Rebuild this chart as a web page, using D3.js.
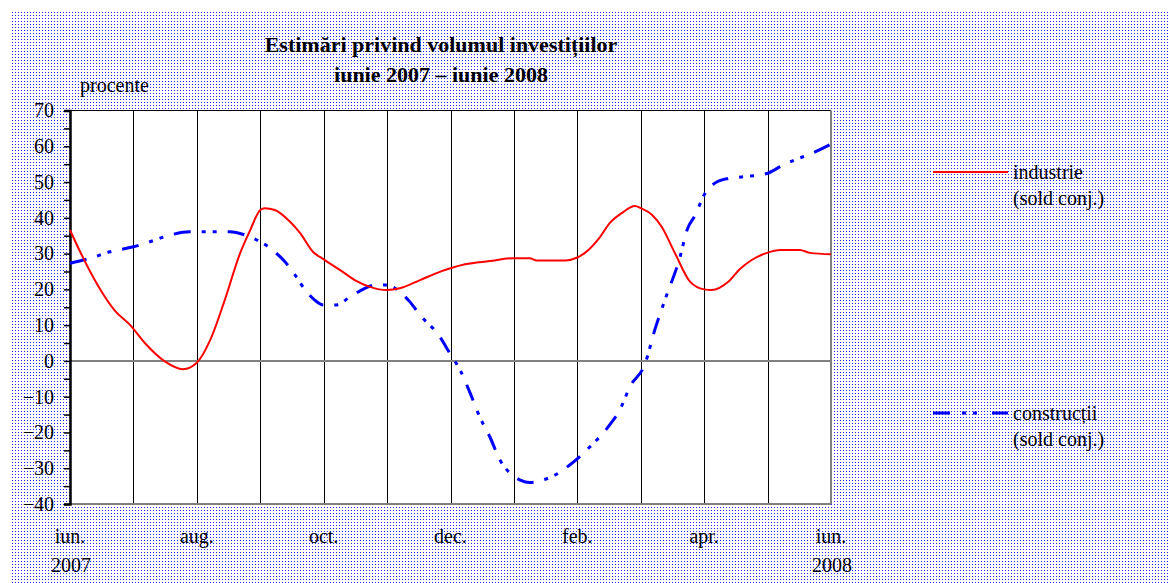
<!DOCTYPE html>
<html>
<head>
<meta charset="utf-8">
<script src="https://cdn.jsdelivr.net/npm/d3@7"></script>
<style>
  body { margin: 0; background: #fff; }
  svg text { font-family: "Liberation Serif", "Times New Roman", serif; fill: #000; }
</style>
</head>
<body>
<svg id="chart" width="1170" height="583"></svg>
<script>
// months counted from June 2007 (0) to June 2008 (12)
var industrieT = [0, 0.16, 0.47, 0.71, 0.95, 1.18, 1.5, 1.78, 2, 2.21, 2.44, 2.68, 2.84, 3, 3.07, 3.23, 3.47, 3.63, 3.83, 4,
	4.26, 4.49, 4.73, 5, 5.2, 5.52, 5.83, 6, 6.23, 6.62, 6.99, 7.25, 7.36, 7.81, 8, 8.12, 8.36, 8.51, 8.7, 8.91,
	9, 9.18, 9.33, 9.54, 9.78, 10, 10.12, 10.38, 10.56, 10.75, 10.99, 11.2, 11.51, 11.67, 12];
var industrieV = [36.6, 30.5, 20.2, 14, 10, 5, -0.2, -2.3, -0.5, 5.8, 17, 30, 36.5, 42.2, 42.7, 42.2, 38.9, 35.7, 30.5, 28.4,
	25.4, 22.6, 20.7, 19.8, 20.3, 22.6, 24.9, 25.9, 27, 27.9, 28.7, 28.7, 28.1, 28.1, 28.9, 30.2, 34.7, 38.5, 41.3, 43.3,
	42.7, 40.8, 37.5, 30.1, 22.1, 20, 19.8, 22.1, 25.6, 28.2, 30.2, 31, 31, 30.2, 29.8];

var constructiiT = [0, 0.32, 0.63, 1, 1.26, 1.58, 1.89, 2.52, 2.76, 3, 3.23, 3.39, 3.55, 3.71, 3.86, 4, 4.18, 4.42, 4.65, 4.86,
	5.08, 5.2, 5.36, 5.52, 5.83, 5.99, 6.15, 6.31, 6.46, 6.62, 6.78, 6.94, 7.1, 7.25, 7.41, 7.65, 7.88, 8.2, 8.51, 8.67,
	8.83, 9.07, 9.22, 9.38, 9.62, 9.73, 9.86, 10, 10.17, 10.38, 10.64, 10.99, 11.2, 11.43, 11.67, 12];
var constructiiV = [27.3, 28.7, 30.5, 31.9, 33.3, 35.2, 36.1, 36.1, 35.2, 33.3, 30.5, 27.7, 24, 19.8, 17, 15.6, 15.6, 17.9, 20.3, 21.4,
	20.7, 19.3, 16.5, 12.8, 6.8, 2.1, -2.5, -9, -15.6, -21.2, -27.7, -31.4, -33.3, -34, -33.5, -31.9, -29.1, -24, -17.9, -13.7,
	-7.2, -0.7, 8.6, 17, 29.1, 36.6, 40.8, 46.4, 49.7, 51, 51.5, 52.4, 54.3, 56.2, 57.8, 60.6];

var monthLabels = [
	{ m: 0, label: "iun.", year: "2007" },
	{ m: 2, label: "aug." },
	{ m: 4, label: "oct." },
	{ m: 6, label: "dec." },
	{ m: 8, label: "feb." },
	{ m: 10, label: "apr." },
	{ m: 12, label: "iun.", year: "2008" }
];
var yTicks = d3.range(-40, 71, 5);

var svg = d3.select("#chart");

// dotted background
var defs = svg.append("defs");
var pat = defs.append("pattern")
	.attr("id", "dots")
	.attr("patternUnits", "userSpaceOnUse")
	.attr("width", 3).attr("height", 3);
pat.append("rect").attr("width", 3).attr("height", 3).attr("fill", "#ffffff");
pat.append("rect").attr("width", 1).attr("height", 1).attr("fill", "#2020ff");

svg.append("rect")
	.attr("x", 10).attr("y", 10)
	.attr("width", 1160).attr("height", 573)
	.attr("fill", "url(#dots)");

var x = d3.scaleLinear().domain([0, 12]).range([70, 831]);
var y = d3.scaleLinear().domain([-40, 70]).range([504, 110.5]);

// plot area
svg.append("rect")
	.attr("x", x(0)).attr("y", y(70))
	.attr("width", x(12) - x(0)).attr("height", y(-40) - y(70))
	.attr("fill", "#fff");

// vertical month grid
svg.append("g")
	.selectAll("line")
	.data(d3.range(1, 12))
	.enter()
	.append("line")
	.attr("x1", function(m) { return Math.round(x(m)) + 0.5; })
	.attr("x2", function(m) { return Math.round(x(m)) + 0.5; })
	.attr("y1", y(70)).attr("y2", y(-40))
	.attr("stroke", "#000").attr("stroke-width", 1);

// borders
svg.append("line")
	.attr("x1", x(0)).attr("x2", x(12))
	.attr("y1", y(70)).attr("y2", y(70))
	.attr("stroke", "#000").attr("stroke-width", 1);
svg.append("line")
	.attr("x1", x(12)).attr("x2", x(12))
	.attr("y1", y(70)).attr("y2", y(-40))
	.attr("stroke", "#808080").attr("stroke-width", 2);
svg.append("line")
	.attr("x1", x(0)).attr("x2", x(12))
	.attr("y1", y(-40)).attr("y2", y(-40))
	.attr("stroke", "#808080").attr("stroke-width", 2);

// zero line
svg.append("line")
	.attr("x1", x(0)).attr("x2", x(12))
	.attr("y1", y(0)).attr("y2", y(0))
	.attr("stroke", "#808080").attr("stroke-width", 2);

// y axis
var yAxis = svg.append("g")
	.attr("transform", "translate(" + x(0) + ",0)")
	.call(d3.axisLeft(y)
		.tickValues(yTicks)
		.tickSize(6)
		.tickPadding(10)
		.tickFormat(function(d) {
			return d % 10 === 0 ? String(d).replace("-", "\u2212") : "";
		}));
yAxis.select(".domain").attr("stroke", "#000").attr("stroke-width", 2.5);
yAxis.selectAll(".tick line").attr("stroke", "#000").attr("stroke-width", 1.5);
yAxis.selectAll(".tick text")
	.style("font-family", "'Liberation Serif', serif")
	.style("font-size", "20px")
	.attr("fill", "#000");

// x labels
var xl = svg.append("g").selectAll("g")
	.data(monthLabels)
	.enter()
	.append("g");
xl.append("text")
	.attr("x", function(d) { return x(d.m); })
	.attr("y", 543)
	.attr("text-anchor", "middle")
	.style("font-size", "20px")
	.text(function(d) { return d.label; });
xl.filter(function(d) { return d.year; })
	.append("text")
	.attr("x", function(d) { return x(d.m) + 1; })
	.attr("y", 572)
	.attr("text-anchor", "middle")
	.style("font-size", "20px")
	.text(function(d) { return d.year; });

// series
var line = d3.line()
	.x(function(d) { return x(d[0]); })
	.y(function(d) { return y(d[1]); })
	.curve(d3.curveMonotoneX);

var dashBlue = "17,11,4,7,4,11";

svg.append("path")
	.datum(d3.zip(constructiiT, constructiiV))
	.attr("d", line)
	.attr("fill", "none")
	.attr("stroke", "#0000ff")
	.attr("stroke-width", 3)
	.attr("stroke-dasharray", dashBlue);

svg.append("path")
	.datum(d3.zip(industrieT, industrieV))
	.attr("d", line)
	.attr("fill", "none")
	.attr("stroke", "#ff0000")
	.attr("stroke-width", 2);

// title
svg.append("text")
	.attr("x", 441).attr("y", 52)
	.attr("text-anchor", "middle")
	.style("font-size", "22px").style("font-weight", "bold")
	.text("Estimări privind volumul investițiilor");
svg.append("text")
	.attr("x", 441).attr("y", 82)
	.attr("text-anchor", "middle")
	.style("font-size", "22px").style("font-weight", "bold")
	.text("iunie 2007 – iunie 2008");

svg.append("text")
	.attr("x", 80).attr("y", 92)
	.style("font-size", "20px")
	.text("procente");

// legend
var legend = [
	{ name: "industrie", color: "#ff0000", width: 2, dash: null, y: 172 },
	{ name: "construcții", color: "#0000ff", width: 3, dash: "17,12,4,7,4,15", y: 413 }
];
var lg = svg.append("g").selectAll("g")
	.data(legend)
	.enter()
	.append("g");
lg.append("line")
	.attr("x1", 933).attr("x2", 1008)
	.attr("y1", function(d) { return d.y; })
	.attr("y2", function(d) { return d.y; })
	.attr("stroke", function(d) { return d.color; })
	.attr("stroke-width", function(d) { return d.width; })
	.attr("stroke-dasharray", function(d) { return d.dash; });
lg.append("text")
	.attr("x", 1013)
	.attr("y", function(d) { return d.y + 7; })
	.style("font-size", "20px")
	.text(function(d) { return d.name; });
lg.append("text")
	.attr("x", 1013)
	.attr("y", function(d) { return d.y + 33; })
	.style("font-size", "20px")
	.text("(sold conj.)");
</script>
</body>
</html>
